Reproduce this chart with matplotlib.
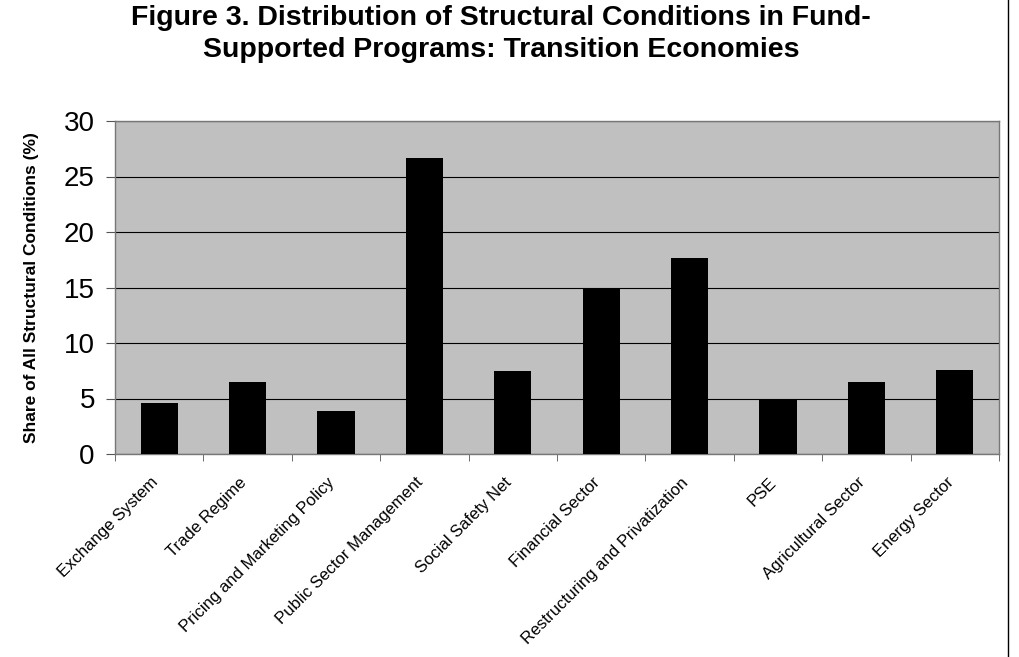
import matplotlib
matplotlib.use("Agg")
import matplotlib.pyplot as plt
import matplotlib.transforms as mtransforms
from matplotlib.lines import Line2D
import numpy as np

plt.rcParams["font.family"] = ["Liberation Sans", "DejaVu Sans"]

categories = [
    "Exchange System",
    "Trade Regime",
    "Pricing and Marketing Policy",
    "Public Sector Management",
    "Social Safety Net",
    "Financial Sector",
    "Restructuring and Privatization",
    "PSE",
    "Agricultural Sector",
    "Energy Sector",
]
shares = [4.6, 6.5, 3.9, 26.7, 7.5, 15.0, 17.7, 5.0, 6.5, 7.6]
yticks = [0, 5, 10, 15, 20, 25, 30]

fig = plt.figure(figsize=(10.19, 6.57), dpi=100)
ax = fig.add_axes([115 / 1019, 1 - 454 / 657, (999 - 115) / 1019, (454 - 121) / 657])

x = np.arange(len(categories))
ax.set_facecolor("#c0c0c0")
ax.bar(x, shares, width=0.42, color="black", zorder=3)
ax.set_xlim(-0.5, len(categories) - 0.5)
ax.set_ylim(0, 30)
ax.set_yticks(yticks)
ax.set_yticklabels([str(t) for t in yticks], fontsize=20)
ax.yaxis.grid(True, color="black", linewidth=0.8, zorder=1)
ax.set_axisbelow(True)

ax.set_xticks(x)
ax.set_xticklabels(categories, rotation=45, ha="right", rotation_mode="anchor", fontsize=12)
ax.tick_params(axis="x", length=0, pad=15)
shift = mtransforms.ScaledTranslation(-9 / 100, 0, fig.dpi_scale_trans)
for lab in ax.get_xticklabels():
    lab.set_transform(lab.get_transform() + shift)
ax.set_xticks(np.arange(-0.5, len(categories)), minor=True)
ax.tick_params(axis="x", which="minor", length=5, color="#555555")
ax.tick_params(axis="y", length=6.5, color="#555555", pad=8)

for side in ["left", "bottom", "top", "right"]:
    ax.spines[side].set_color("#777777")
    ax.spines[side].set_linewidth(1.0)

ax.set_ylabel("Share of All Structural Conditions (%)", fontsize=12.5, fontweight="bold", labelpad=18)

fig.text(501 / 1019, 1 - 34 / 657, "Figure 3. Distribution of Structural Conditions in Fund-\nSupported Programs: Transition Economies",
         ha="center", va="center", fontsize=20.5, fontweight="bold", linespacing=1.3)

fig.add_artist(Line2D([1008 / 1019, 1008 / 1019], [0, 1], color="black", linewidth=1.0, transform=fig.transFigure))

fig.savefig("out.png", dpi=100)
